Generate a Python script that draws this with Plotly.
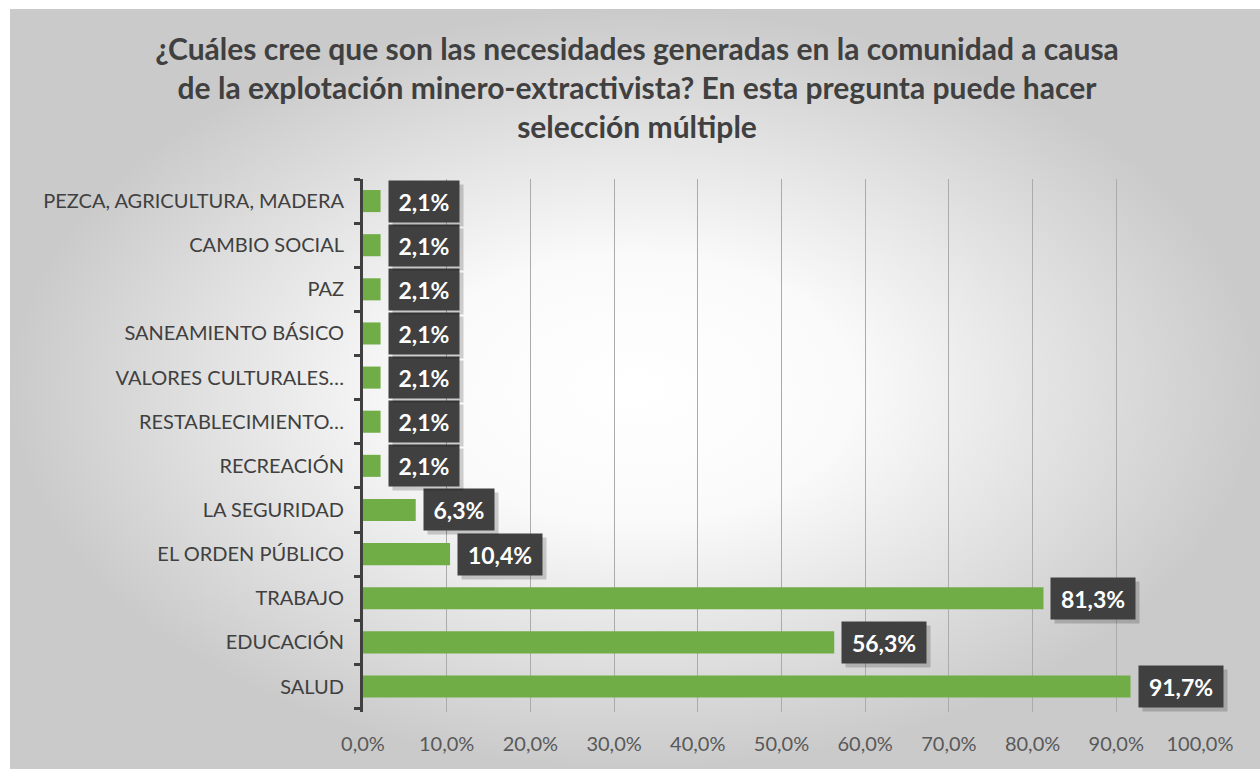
import plotly.graph_objects as go

# ---- data (bottom to top) ----
categories = [
    "SALUD",
    "EDUCACIÓN",
    "TRABAJO",
    "EL ORDEN PÚBLICO",
    "LA SEGURIDAD",
    "RECREACIÓN",
    "RESTABLECIMIENTO…",
    "VALORES CULTURALES…",
    "SANEAMIENTO BÁSICO",
    "PAZ",
    "CAMBIO SOCIAL",
    "PEZCA, AGRICULTURA, MADERA",
]
values = [91.7, 56.3, 81.3, 10.4, 6.3, 2.1, 2.1, 2.1, 2.1, 2.1, 2.1, 2.1]
x_ticks = [0, 0.1, 0.2, 0.3, 0.4, 0.5, 0.6, 0.7, 0.8, 0.9, 1.0]

title_text = ("¿Cuáles cree que son las necesidades generadas en la comunidad a causa<br>"
              "de la explotación minero-extractivista? En esta pregunta puede hacer<br>"
              "selección múltiple")

W, H = 1260, 769
FONT = "Lato"

fig = go.Figure()

# background radial gradient panel (on full-page helper axes)
fig.add_trace(go.Scatter(
    x=[10, W, W, 10, 10], y=[9, 9, H, H, 9],
    mode="lines", line=dict(width=0), fill="toself",
    fillgradient=dict(type="radial",
                      colorscale=[[0, "#FFFFFF"], [0.35, "#FAFAFA"], [1, "#CACACA"]]),
    hoverinfo="skip", showlegend=False, xaxis="x", yaxis="y",
))

fracs = [v / 100 for v in values]
fig.add_trace(go.Bar(
    x=fracs, y=categories, orientation="h",
    marker=dict(color="#70AD47", line=dict(width=0)),
    xaxis="x2", yaxis="y2", showlegend=False, hoverinfo="skip",
))

annotations = []
for c, f, v in zip(categories, fracs, values):
    label = f"{v:.1f}".replace(".", ",") + "%"
    bw = 70 if v < 10 else 84
    # shadow
    annotations.append(dict(
        x=f, y=c, xref="x2", yref="y2", xanchor="left", yanchor="middle",
        xshift=11, yshift=-4, text="", showarrow=False, width=bw, height=41,
        borderpad=0, bgcolor="rgba(0,0,0,0.18)",
    ))
    annotations.append(dict(
        x=f, y=c, xref="x2", yref="y2", xanchor="left", yanchor="middle",
        xshift=7, text=f"<b>{label}</b>", showarrow=False, width=bw, height=41,
        borderpad=0, bgcolor="#404040",
        font=dict(family=FONT, size=23, color="#FFFFFF"),
    ))

x0, x1 = 363 / W, 1200 / W
y0, y1 = (H - 712) / H, (H - 179) / H

fig.update_layout(
    width=W, height=H,
    margin=dict(l=0, r=0, t=0, b=0, pad=0, autoexpand=False),
    paper_bgcolor="#FFFFFF", plot_bgcolor="rgba(0,0,0,0)",
    separators=",.",
    bargap=0.5,
    title=dict(text=f"<b>{title_text}</b>", x=637 / W, xanchor="center",
               y=1 - 60 / H, yanchor="top", automargin=False,
               font=dict(family=FONT, size=30, color="#404040")),
    xaxis=dict(domain=[0, 1], range=[0, W], visible=False, fixedrange=True,
               automargin=False),
    yaxis=dict(domain=[0, 1], range=[H, 0], visible=False, fixedrange=True,
               automargin=False),
    xaxis2=dict(domain=[x0, x1], anchor="y2", range=[0, 1], automargin=False,
                tickvals=x_ticks, tickformat=".1%",
                showgrid=True, gridcolor="#ABABAB", gridwidth=1,
                zeroline=False, showline=False, ticks="",
                ticklabelstandoff=18,
                tickfont=dict(family=FONT, size=20, color="#595959")),
    yaxis2=dict(domain=[y0, y1], anchor="x2", type="category", automargin=False,
                categoryorder="array", categoryarray=categories,
                showline=True, linecolor="#404040", linewidth=3,
                ticks="outside", tickson="boundaries", ticklen=6,
                tickwidth=3, tickcolor="#404040",
                ticklabelstandoff=12, showgrid=False,
                tickfont=dict(family=FONT, size=20, color="#404040")),
    annotations=annotations,
)

fig.write_html("out.html", config={"displayModeBar": False},
               post_script="document.body.style.margin='0px';")
